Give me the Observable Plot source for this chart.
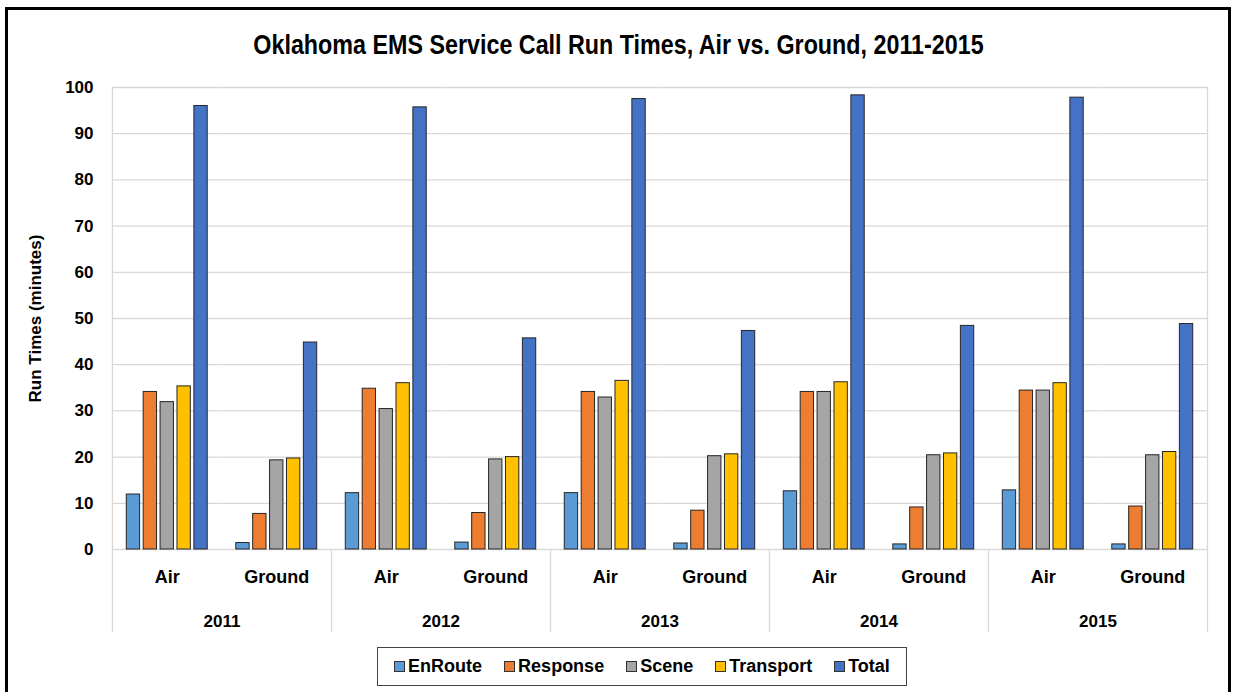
<!DOCTYPE html>
<html><head><meta charset="utf-8">
<script src="https://cdn.jsdelivr.net/npm/d3@7"></script>
<script src="https://cdn.jsdelivr.net/npm/@observablehq/plot@0.6"></script>
<style>
body{margin:0;background:#fff;width:1233px;height:692px;overflow:hidden;position:relative;
 font-family:"Liberation Sans",Arial,sans-serif;font-weight:bold;color:#000;}
#frame{position:absolute;left:5px;top:7px;width:1226px;height:700px;border:3px solid #000;box-sizing:border-box;z-index:5;pointer-events:none;}
#title{position:absolute;top:31px;left:2px;width:1233px;text-align:center;font-size:23.3px;line-height:28px;transform:scaleY(1.15);}
#chart{position:absolute;left:0;top:60px;}
#legend{position:absolute;left:377px;top:647px;width:530px;height:39px;border:1px solid #444;box-sizing:border-box;
 display:flex;align-items:center;justify-content:center;gap:22px;font-size:18px;background:#fff;}
.item{display:flex;align-items:center;}
.sw{width:9px;height:9px;border:1px solid #333;margin-right:3px;}
</style></head>
<body>
<div id="title">Oklahoma EMS Service Call Run Times, Air vs. Ground, 2011-2015</div>
<div id="chart"></div>
<div id="legend"></div>
<div id="frame"></div>
<script>
const years = [2011, 2012, 2013, 2014, 2015];
const types = ["Air", "Ground"];
const series = ["EnRoute", "Response", "Scene", "Transport", "Total"];
const colors = ["#5B9BD5", "#ED7D31", "#A5A5A5", "#FFC000", "#4472C4"];
// values ordered 2011 Air, 2011 Ground, 2012 Air, ... 2015 Ground
const enRoute   = [11.9, 1.4, 12.2, 1.5, 12.2, 1.3, 12.6, 1.1, 12.8, 1.1];
const response  = [34.1, 7.7, 34.8, 7.9, 34.1, 8.4, 34.1, 9.1, 34.4, 9.3];
const scene     = [31.9, 19.3, 30.4, 19.5, 32.9, 20.2, 34.1, 20.4, 34.4, 20.4];
const transport = [35.3, 19.7, 36.0, 20.0, 36.5, 20.6, 36.2, 20.8, 36.0, 21.1];
const total     = [96.0, 44.8, 95.7, 45.7, 97.5, 47.3, 98.3, 48.4, 97.8, 48.8];
const yTicks = [0, 10, 20, 30, 40, 50, 60, 70, 80, 90, 100];

const valuesBySeries = [enRoute, response, scene, transport, total];
const keys = years.flatMap(y => types.map(t => `${y}|${t}`));
const rows = [];
keys.forEach((k, i) => series.forEach((s, j) => rows.push({key: k, series: s, value: valuesBySeries[j][i]})));

const half = (1233 - 112 - 26) / keys.length / 2;
const grid = "#d9d9d9";

const plot = Plot.plot({
  width: 1233, height: 579,
  marginLeft: 112, marginRight: 26, marginTop: 27, marginBottom: 90,
  style: {fontFamily: '"Liberation Sans",Arial,sans-serif', fontSize: "17px", fontWeight: "bold", color: "#000", background: "transparent", overflow: "visible"},
  fx: {domain: keys, padding: 0, round: false, axis: null},
  x: {domain: series, paddingInner: 0.21, paddingOuter: 0.845, round: false, axis: null},
  y: {domain: [0, 100], ticks: yTicks, tickSize: 0, tickPadding: 19, label: "Run Times (minutes)", labelAnchor: "center", labelArrow: "none", labelOffset: 84},
  color: {domain: series, range: colors},
  marks: [
    Plot.gridY(yTicks, {stroke: grid, strokeOpacity: 1, strokeWidth: 1.3}),
    Plot.ruleX(years, {fx: d => `${d}|Air`, x: () => "Scene", y1: d => d === years[0] ? 100 : 0, y2: -18, dx: -half, stroke: grid, strokeWidth: 1.3}),
    Plot.ruleX([keys[keys.length - 1]], {fx: d => d, x: () => "Scene", y1: 100, y2: -18, dx: half, stroke: grid, strokeWidth: 1.3}),
    Plot.barY(rows, {fx: "key", x: "series", y: "value", fill: "series", stroke: "#262626", strokeWidth: 1}),
    Plot.text(keys, {fx: d => d, x: () => "Scene", y: () => 0, text: d => d.split("|")[1], dy: 28, fontSize: 18, fontWeight: "bold"}),
    Plot.text(years, {fx: d => `${d}|Air`, x: () => "Scene", y: () => 0, text: d => String(d), dx: half, dy: 72, fontSize: 17, fontWeight: "bold"})
  ]
});
document.getElementById("chart").appendChild(plot);

const legend = document.getElementById("legend");
series.forEach((s, i) => {
  const it = document.createElement("div"); it.className = "item";
  const sw = document.createElement("span"); sw.className = "sw"; sw.style.background = colors[i];
  const tx = document.createElement("span"); tx.textContent = s;
  it.appendChild(sw); it.appendChild(tx); legend.appendChild(it);
});
</script>
</body></html>
